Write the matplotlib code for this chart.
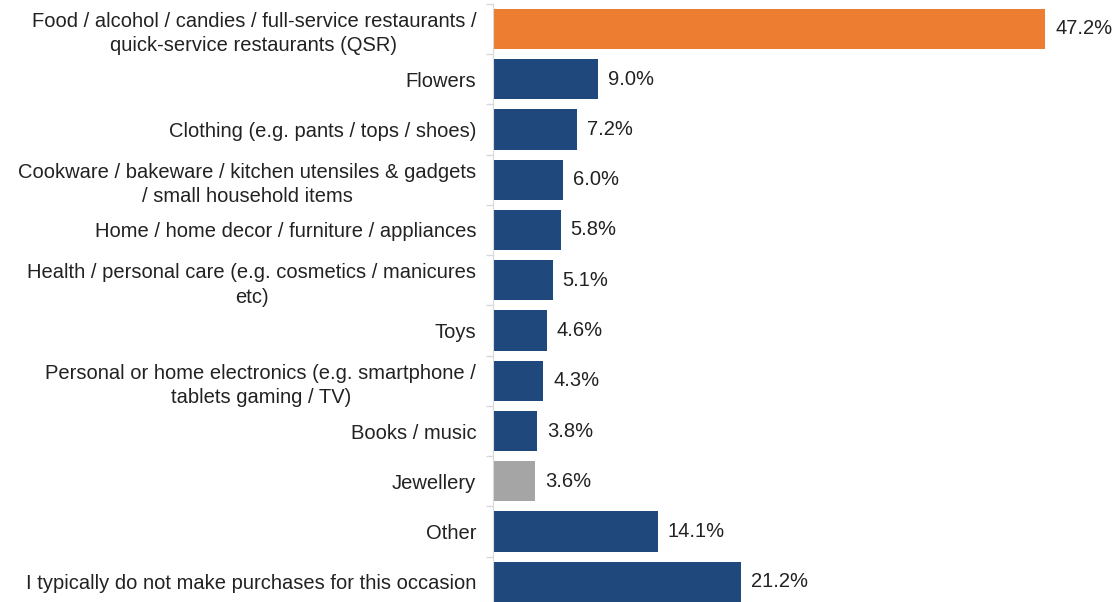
import matplotlib.pyplot as plt
import numpy as np

plt.rcParams['font.family'] = ['Liberation Sans', 'DejaVu Sans']

categories = [
    "Food / alcohol / candies / full-service restaurants /\nquick-service restaurants (QSR)",
    "Flowers",
    "Clothing (e.g. pants / tops / shoes)",
    "Cookware / bakeware / kitchen utensiles & gadgets\n/ small household items",
    "Home / home decor / furniture / appliances",
    "Health / personal care (e.g. cosmetics / manicures\netc)",
    "Toys",
    "Personal or home electronics (e.g. smartphone /\ntablets gaming / TV)",
    "Books / music",
    "Jewellery",
    "Other",
    "I typically do not make purchases for this occasion",
]
shares = [47.2, 9.0, 7.2, 6.0, 5.8, 5.1, 4.6, 4.3, 3.8, 3.6, 14.1, 21.2]

navy = '#1f497d'
colors = [navy] * len(shares)
colors[0] = '#ed7d31'
colors[9] = '#a5a5a5'

fig = plt.figure(figsize=(11.15, 6.02), dpi=100)
ax = fig.add_axes([0.442, -0.0083, 0.525, 1.002])

y = np.arange(len(categories))
ax.barh(y, shares, height=0.8, color=colors)

for yi, v in zip(y, shares):
    ax.text(v + 0.85, yi, f"{v:.1f}%", va='center', ha='left', fontsize=14.5, color='#222222')

ax.set_xlim(0, 50)
ax.set_ylim(len(categories) - 0.5, -0.5)

ax.set_yticks(y)
ax.set_yticklabels(categories, fontsize=14.5, color='#222222')
for lbl in ax.get_yticklabels():
    lbl.set_multialignment('center')
    lbl.set_linespacing(1.35)
ax.tick_params(axis='y', which='major', length=0, pad=12)
ax.set_yticks(np.arange(len(categories) + 1) - 0.5, minor=True)
ax.tick_params(axis='y', which='minor', length=5, color='#d9d9d9', width=1)

ax.set_xticks([])
for side in ['top', 'right', 'bottom']:
    ax.spines[side].set_visible(False)
ax.spines['left'].set_color('#d9d9d9')

fig.savefig('out.png', dpi=100)
